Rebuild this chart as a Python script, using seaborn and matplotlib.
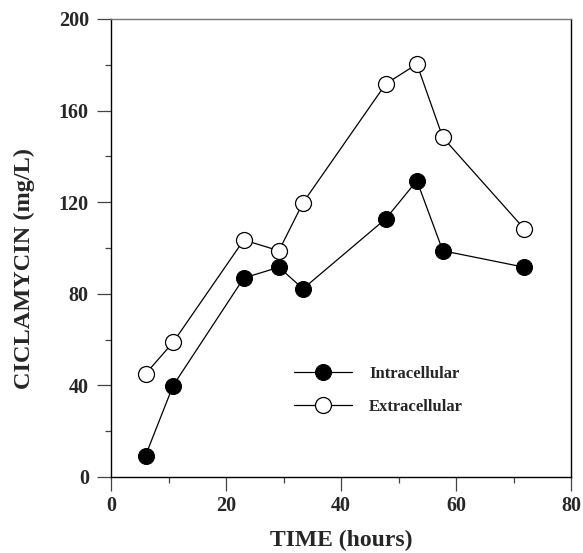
import matplotlib
matplotlib.use("Agg")
import matplotlib.pyplot as plt
from matplotlib.ticker import MultipleLocator
import seaborn as sns
import pandas as pd

time_h = [6.0, 10.8, 23.1, 29.2, 33.4, 47.8, 53.2, 57.7, 71.9]
intracellular = [9.3, 39.9, 86.9, 91.6, 82.2, 112.8, 129.4, 98.8, 91.6]
extracellular = [45.0, 58.8, 103.5, 98.8, 119.8, 171.7, 180.3, 148.3, 108.3]
series_names = ["Intracellular", "Extracellular"]
x_ticks = [0, 20, 40, 60, 80]
y_ticks = [0, 40, 80, 120, 160, 200]

sns.set_style("ticks")
plt.rcParams['font.family'] = ['Liberation Serif', 'DejaVu Serif']
plt.rcParams['font.weight'] = 'bold'

fig = plt.figure(figsize=(5.83, 5.53), dpi=100)
ax = fig.add_axes([111/583, 1-477/553, 460/583, 458/553])

df = pd.DataFrame({"time": time_h, "intra": intracellular, "extra": extracellular})

sns.lineplot(data=df, x="time", y="intra", ax=ax, color="black", linewidth=0.9,
             marker="o", markersize=11.5, markerfacecolor="black",
             markeredgecolor="black", label=series_names[0])
sns.lineplot(data=df, x="time", y="extra", ax=ax, color="black", linewidth=0.9,
             marker="o", markersize=11.5, markerfacecolor="white",
             markeredgecolor="black", markeredgewidth=0.9, label=series_names[1])

ax.set_xlim(0, 80)
ax.set_ylim(0, 200)
ax.set_xticks(x_ticks)
ax.set_yticks(y_ticks)
ax.xaxis.set_minor_locator(MultipleLocator(10))
ax.yaxis.set_minor_locator(MultipleLocator(20))
ax.tick_params(which="major", direction="out", length=10, width=0.9, color="#444444",
               labelsize=14.5, pad=4)
ax.tick_params(which="minor", direction="out", length=4.5, width=0.9, color="#444444")
ax.tick_params(axis="y", which="major", pad=6)
for lab in ax.get_xticklabels() + ax.get_yticklabels():
    lab.set_fontweight("bold")

for side in ["left", "right", "top", "bottom"]:
    ax.spines[side].set_visible(True)
    ax.spines[side].set_linewidth(1.0)
    ax.spines[side].set_color("black")
ax.spines["top"].set_color("#777777")

ax.set_xlabel("TIME (hours)", fontsize=17, fontweight="bold")
ax.set_ylabel("CICLAMYCIN (mg/L)", fontsize=17.5, fontweight="bold")
ax.xaxis.set_label_coords(0.5, -0.1376)
ax.yaxis.set_label_coords(-0.189, 0.456)
ax.xaxis.label.set_va("center")
ax.yaxis.label.set_va("center")

leg = ax.legend(loc="upper left", bbox_to_anchor=(0.365, 0.275), frameon=False,
                handlelength=3.5, handletextpad=1.0, labelspacing=1.0,
                prop={"family": "Liberation Serif", "weight": "bold", "size": 12})

fig.savefig("out.png", dpi=100)
